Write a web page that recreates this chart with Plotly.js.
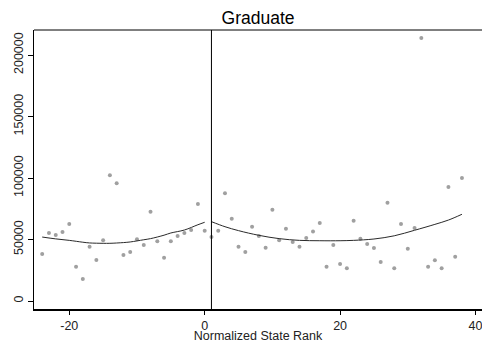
<!DOCTYPE html>
<html>
<head>
<meta charset="utf-8">
<script src="https://cdn.plot.ly/plotly-3.0.1.min.js"></script>
<style>html,body{margin:0;padding:0;background:#fff}#chart{width:482px;height:343px}</style>
</head>
<body>
<div id="chart"></div>
<script>
// Scatter points (normalized state rank vs. value)
const leftX = [-24,-23,-22,-21,-20,-19,-18,-17,-16,-15,-14,-13,-12,-11,-10,-9,-8,-7,-6,-5,-4,-3,-2,-1,0];
const leftY = [38200,55300,53700,56100,62600,27900,17900,44100,33300,49300,102200,95700,37400,39800,50200,45500,72600,48500,35200,48500,52800,55300,57700,78900,57200];
const rightX = [1,2,3,4,5,6,7,8,9,10,11,12,13,14,15,16,17,18,19,20,21,22,23,24,25,26,27,28,29,30,31,32,33,34,35,36,37,38];
const rightY = [52000,57200,87600,66900,44100,39800,60400,52800,43300,74200,49300,58800,48000,44100,51200,56600,63400,27900,45500,30100,26600,65300,50700,46300,43100,31700,79900,26600,62600,42500,59300,213800,27900,33100,26600,92700,36000,100000];
// Fitted curves
const fitLeftX = [-24,-22,-20,-18,-17,-15,-14,-12,-11,-9,-8,-6,-5,-3,-1,0];
const fitLeftY = [52000,50500,49300,47800,47200,46900,46900,47500,48000,49800,50700,53500,55300,57700,62000,64000];
const fitRightX = [1,3,5,8,11,14,17,20,22,25,28,31,34,36,38];
const fitRightY = [64500,60400,57200,53400,50700,49300,49000,49000,49300,50400,53000,57500,62300,65800,70500];
const xTicks = [-20,0,20,40];
const yTicks = [0,50000,100000,150000,200000];
const cutoff = 1;

const dotStyle = {color:'#a0a0a0', size:4};
const lineStyle = {color:'#2a2a2a', width:1};
const traces = [
  {x:leftX, y:leftY, mode:'markers', type:'scatter', marker:dotStyle, hoverinfo:'none', cliponaxis:false},
  {x:rightX, y:rightY, mode:'markers', type:'scatter', marker:dotStyle, hoverinfo:'none', cliponaxis:false},
  {x:fitLeftX, y:fitLeftY, mode:'lines', type:'scatter', line:Object.assign({shape:'spline'}, lineStyle), hoverinfo:'none'},
  {x:fitRightX, y:fitRightY, mode:'lines', type:'scatter', line:Object.assign({shape:'spline'}, lineStyle), hoverinfo:'none'}
];
const font = {family:'"Liberation Sans", Arial, sans-serif', color:'#222', size:12};
const layout = {
  width:482, height:343,
  margin:{l:34, r:0, t:30, b:34},
  paper_bgcolor:'#fff', plot_bgcolor:'#fff',
  showlegend:false,
  font:font,
  title:{text:'Graduate', font:{family:font.family, size:17.5, color:'#000'}, xref:'paper', x:0.5, xanchor:'center', yref:'container', y:0.965, yanchor:'top'},
  xaxis:{range:[-25.21,40.96], tickvals:xTicks, ticktext:xTicks.map(String), showgrid:false, zeroline:false,
    showline:true, linecolor:'#000', linewidth:1.5, ticks:'outside', ticklen:4, tickcolor:'#000',
    ticklabeloverflow:'allow',
    tickfont:{family:font.family, size:12.5, color:'#222'},
    title:{text:'Normalized State Rank', font:{family:font.family, size:12.5, color:'#222'}, standoff:3}},
  yaxis:{range:[-6504,220325], tickvals:yTicks, ticktext:yTicks.map(String), showgrid:false, zeroline:false,
    showline:true, linecolor:'#000', linewidth:1.5, ticks:'outside', ticklen:5, tickcolor:'#000',
    tickangle:-90, tickfont:{family:font.family, size:12.5, color:'#222'}},
  shapes:[
    {type:'line', xref:'x', yref:'paper', x0:cutoff, x1:cutoff, y0:0, y1:1, line:{color:'#000', width:1}},
    {type:'line', xref:'paper', yref:'paper', x0:0, x1:1, y0:1, y1:1, line:{color:'#000', width:1}}
  ]
};
Plotly.newPlot('chart', traces, layout, {staticPlot:true});
</script>
</body>
</html>
